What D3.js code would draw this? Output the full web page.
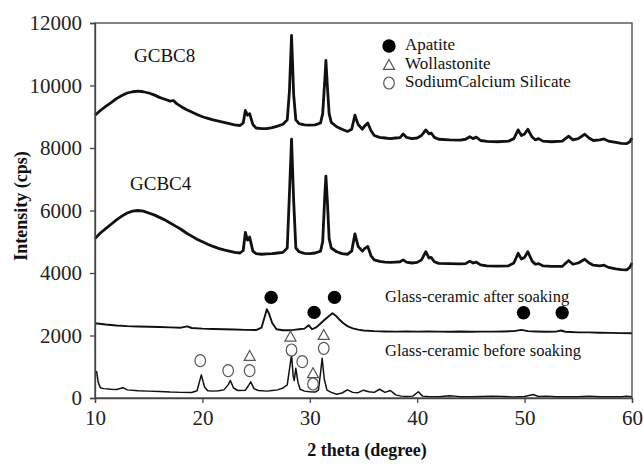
<!DOCTYPE html>
<html><head><meta charset="utf-8">
<script src="https://cdn.jsdelivr.net/npm/d3@7"></script>
<style>body{margin:0;background:#fff}svg{display:block}</style>
</head><body><svg id="c" width="644" height="466"></svg>
<script>
// ---- data ----
const xTicks = [10, 20, 30, 40, 50, 60];
const yTicks = [0, 2000, 4000, 6000, 8000, 10000, 12000];
const gcbc8 = [[10,9050],[10.5,9200],[11,9330],[11.5,9450],[12,9580],[12.5,9680],[13,9760],[13.5,9800],[14,9820],[14.5,9800],[15,9760],[15.5,9700],[16,9620],[16.5,9560],[17,9500],[17.3,9520],[17.6,9420],[18,9330],[18.5,9230],[19,9150],[19.5,9070],[20,9000],[20.5,8950],[21,8900],[21.5,8860],[22,8820],[22.5,8780],[23,8740],[23.5,8720],[23.8,8800],[24.0,9200],[24.2,9050],[24.4,9100],[24.7,8750],[25,8640],[25.5,8620],[26,8620],[26.5,8650],[27,8700],[27.5,8760],[27.9,8900],[28.1,9800],[28.3,11600],[28.5,9700],[28.7,8900],[29,8780],[29.5,8740],[30,8730],[30.5,8740],[31,8800],[31.2,9100],[31.4,10200],[31.5,10800],[31.65,9900],[31.8,9100],[32,8820],[32.5,8680],[33,8600],[33.5,8530],[33.9,8600],[34.2,9050],[34.5,8750],[34.9,8600],[35.1,8700],[35.4,8800],[35.7,8550],[36,8400],[36.5,8340],[37,8320],[37.5,8300],[38,8320],[38.4,8330],[38.7,8450],[39,8340],[39.5,8300],[40,8320],[40.4,8400],[40.8,8580],[41.1,8450],[41.3,8480],[41.6,8340],[42,8280],[43,8260],[44,8250],[44.5,8280],[44.9,8360],[45.2,8300],[45.5,8350],[45.9,8240],[46.5,8210],[47.5,8200],[48.5,8220],[49,8300],[49.4,8580],[49.7,8400],[50,8450],[50.3,8600],[50.7,8350],[51,8260],[51.3,8300],[51.7,8220],[52.5,8200],[53.5,8220],[54.1,8380],[54.5,8260],[55,8300],[55.6,8440],[56,8320],[56.4,8240],[57,8260],[57.4,8290],[57.8,8220],[58.5,8180],[59,8150],[59.5,8140],[59.8,8200],[60,8320]];
const gcbc4 = [[10,5100],[10.5,5280],[11,5420],[11.5,5560],[12,5700],[12.5,5820],[13,5920],[13.5,5980],[14,6000],[14.5,5980],[15,5920],[15.5,5860],[16,5780],[16.5,5700],[17,5600],[17.5,5500],[18,5400],[18.5,5280],[19,5180],[19.5,5080],[20,5000],[20.5,4920],[21,4850],[21.5,4790],[22,4740],[22.5,4700],[23,4660],[23.5,4640],[23.8,4720],[24.0,5300],[24.2,5050],[24.4,5150],[24.7,4700],[25,4620],[25.5,4600],[26,4610],[26.5,4620],[27,4640],[27.5,4660],[27.9,4800],[28.1,6500],[28.3,8280],[28.5,6300],[28.7,4800],[29,4680],[29.5,4630],[30,4620],[30.5,4640],[31,4700],[31.2,5000],[31.4,6500],[31.5,7100],[31.65,6200],[31.8,5100],[32,4800],[32.5,4680],[33,4620],[33.5,4600],[33.9,4700],[34.2,5250],[34.5,4850],[34.9,4700],[35.1,4780],[35.4,4850],[35.7,4550],[36,4420],[36.5,4370],[37,4350],[37.5,4340],[38,4350],[38.4,4360],[38.7,4420],[39,4350],[39.5,4320],[40,4340],[40.4,4420],[40.8,4680],[41.1,4480],[41.3,4500],[41.6,4360],[42,4310],[43,4300],[44,4290],[44.5,4300],[44.9,4380],[45.2,4320],[45.5,4350],[45.9,4260],[46.5,4230],[47.5,4220],[48.5,4230],[49,4320],[49.4,4630],[49.7,4450],[50,4500],[50.3,4680],[50.7,4380],[51,4280],[51.3,4300],[51.7,4230],[52.5,4210],[53.5,4210],[54.1,4400],[54.5,4280],[55,4320],[55.6,4440],[56,4320],[56.4,4250],[57,4230],[57.4,4250],[57.8,4180],[58.5,4130],[59,4110],[59.5,4100],[59.8,4180],[60,4320]];
const afterSoak = [[10,2390],[11,2350],[12,2320],[13,2300],[14,2290],[15,2280],[16,2270],[17,2260],[18,2250],[18.6,2290],[19,2240],[20,2220],[21,2210],[22,2200],[23,2190],[24,2180],[25,2175],[25.5,2250],[25.8,2600],[26.0,2840],[26.2,2700],[26.5,2400],[26.9,2200],[27.5,2170],[28,2170],[28.5,2180],[29,2200],[29.5,2220],[29.9,2330],[30.2,2200],[30.6,2260],[30.9,2350],[31.3,2480],[31.6,2570],[32.1,2710],[32.4,2640],[32.7,2530],[33.1,2400],[33.5,2300],[34,2230],[34.5,2190],[35,2160],[36,2140],[37,2130],[38,2125],[39,2130],[40,2125],[41,2130],[42,2125],[43,2120],[44,2130],[45,2120],[46,2125],[47,2125],[48,2130],[49,2140],[49.7,2180],[50.3,2140],[51,2130],[52,2120],[53,2130],[53.4,2160],[53.8,2120],[55,2100],[56,2100],[57,2090],[58,2085],[59,2075],[60,2070]];
const beforeSoak = [[10,800],[10.15,850],[10.3,500],[10.5,330],[10.8,300],[11.5,280],[12,270],[12.6,330],[13,260],[14,230],[15,220],[16,210],[17,190],[18,180],[19,175],[19.5,230],[19.9,740],[20.2,350],[20.5,230],[21,220],[21.5,230],[22,260],[22.4,420],[22.6,560],[22.9,320],[23.3,240],[24,250],[24.3,400],[24.5,520],[24.8,300],[25.2,240],[26,220],[26.5,240],[27,260],[27.5,320],[27.9,420],[28.1,900],[28.3,1380],[28.45,700],[28.55,560],[28.7,950],[28.9,500],[29.1,280],[29.5,220],[30,200],[30.5,190],[30.8,250],[31.0,800],[31.15,1270],[31.35,600],[31.6,250],[32,180],[32.5,120],[33,160],[33.5,260],[34,180],[34.5,170],[35,250],[35.5,200],[36,180],[36.5,280],[37,180],[37.5,240],[38,100],[38.5,60],[39,50],[39.6,60],[40.1,200],[40.5,60],[41,50],[42,40],[43,70],[43.5,60],[44,40],[45,40],[46,50],[47,60],[48,50],[49,30],[50,50],[50.8,110],[51.3,50],[52,60],[53,40],[54,40],[55,40],[56,60],[57,40],[58,40],[59,40],[59.5,60],[60,40]];
// phase markers [2theta, intensity]
const apatiteMarks = [[26.4,3220],[30.4,2740],[32.3,3220],[49.9,2730],[53.5,2730]];
const wollastoniteMarks = [[24.4,1344],[28.2,1963],[30.3,790],[31.3,2016]];
const silicateMarks = [[19.8,1195],[22.4,875],[24.4,875],[28.3,1536],[29.3,1163],[30.3,448],[31.3,1589]];
const legendLabels = ["Apatite", "Wollastonite", "SodiumCalcium Silicate"];
const curveLabels = ["GCBC8", "GCBC4", "Glass-ceramic after soaking", "Glass-ceramic before soaking"];

// ---- drawing ----
const FONT = '"Liberation Serif", "Times New Roman", Times, "DejaVu Serif", serif';
const svg = d3.select("#c").attr("font-family", FONT);
const L = 95, R = 632, T = 23, B = 398;
const x = d3.scaleLinear().domain([10, 60]).range([L, R]);
const y = d3.scaleLinear().domain([0, 12000]).range([B, T]);

const line = d3.line().x(d => x(d[0])).y(d => y(d[1]));
const series = [[gcbc8, 2.8], [gcbc4, 2.8], [afterSoak, 1.9], [beforeSoak, 1.5]];
series.forEach(([s, w]) => {
  svg.append("path").datum(s).attr("d", line).attr("fill", "none")
    .attr("stroke", "#111").attr("stroke-width", w).attr("stroke-linejoin", "round");
});

// frame
svg.append("rect").attr("x", L).attr("y", T).attr("width", R - L).attr("height", B - T)
  .attr("fill", "none").attr("stroke", "#444").attr("stroke-width", 1.3);

const yAxis = svg.append("g").attr("transform", `translate(${L},0)`)
  .call(d3.axisLeft(y).tickValues(yTicks).tickSize(5).tickPadding(8).tickFormat(d3.format("d")));
const xAxis = svg.append("g").attr("transform", `translate(0,${B})`)
  .call(d3.axisBottom(x).tickValues(xTicks).tickSize(5).tickPadding(7).tickFormat(d3.format("d")));
[yAxis, xAxis].forEach(a => {
  a.attr("font-family", FONT).attr("font-size", 21);
  a.select(".domain").attr("stroke", "#444").attr("stroke-width", 1.3);
  a.selectAll(".tick line").attr("stroke", "#444").attr("stroke-width", 1.3);
  a.selectAll("text").attr("font-family", FONT).attr("font-size", 21).attr("fill", "#222");
});

function txt(g, t, xx, yy, size, opts = {}) {
  return g.append("text").attr("x", xx).attr("y", yy).attr("font-family", FONT)
    .attr("font-size", size).attr("fill", "#111").attr("dominant-baseline", "central")
    .attr("text-anchor", opts.anchor || "start").attr("font-weight", opts.bold ? "bold" : "normal").text(t);
}

// axis titles
txt(svg, "Intensity (cps)", 0, 0, 18, { bold: true, anchor: "middle" })
  .attr("transform", `translate(21,206) rotate(-90)`);
txt(svg, "2 theta (degree)", 367, 450, 18, { bold: true, anchor: "middle" });

// curve labels
const labelPos = [[134, 55], [130, 183], [385, 296], [385, 350]];
const labelSize = [19, 19, 16.5, 16.5];
curveLabels.forEach((t, i) => txt(svg, t, labelPos[i][0], labelPos[i][1], labelSize[i]));

// markers
function filled(g, cx, cy) { g.append("circle").attr("cx", cx).attr("cy", cy).attr("r", 6.7).attr("fill", "#000"); }
function tri(g, cx, cy) {
  const s = 5.5;
  g.append("path").attr("d", `M${cx},${cy - s}L${cx + s},${cy + s * 0.8}L${cx - s},${cy + s * 0.8}Z`)
    .attr("fill", "#fff").attr("stroke", "#555").attr("stroke-width", 1.2);
}
function open(g, cx, cy) {
  g.append("ellipse").attr("cx", cx).attr("cy", cy).attr("rx", 5.3).attr("ry", 6)
    .attr("fill", "#fff").attr("stroke", "#555").attr("stroke-width", 1.2);
}
const mk = svg.append("g");
apatiteMarks.forEach(d => filled(mk, x(d[0]), y(d[1])));
silicateMarks.forEach(d => open(mk, x(d[0]), y(d[1])));
wollastoniteMarks.forEach(d => tri(mk, x(d[0]), y(d[1])));

// legend
const lg = svg.append("g");
filled(lg, 389, 46);
tri(lg, 389, 65);
open(lg, 389, 83);
const legY = [44.5, 63, 81.5];
legendLabels.forEach((t, i) => txt(lg, t, 405, legY[i], 17));
</script></body></html>
